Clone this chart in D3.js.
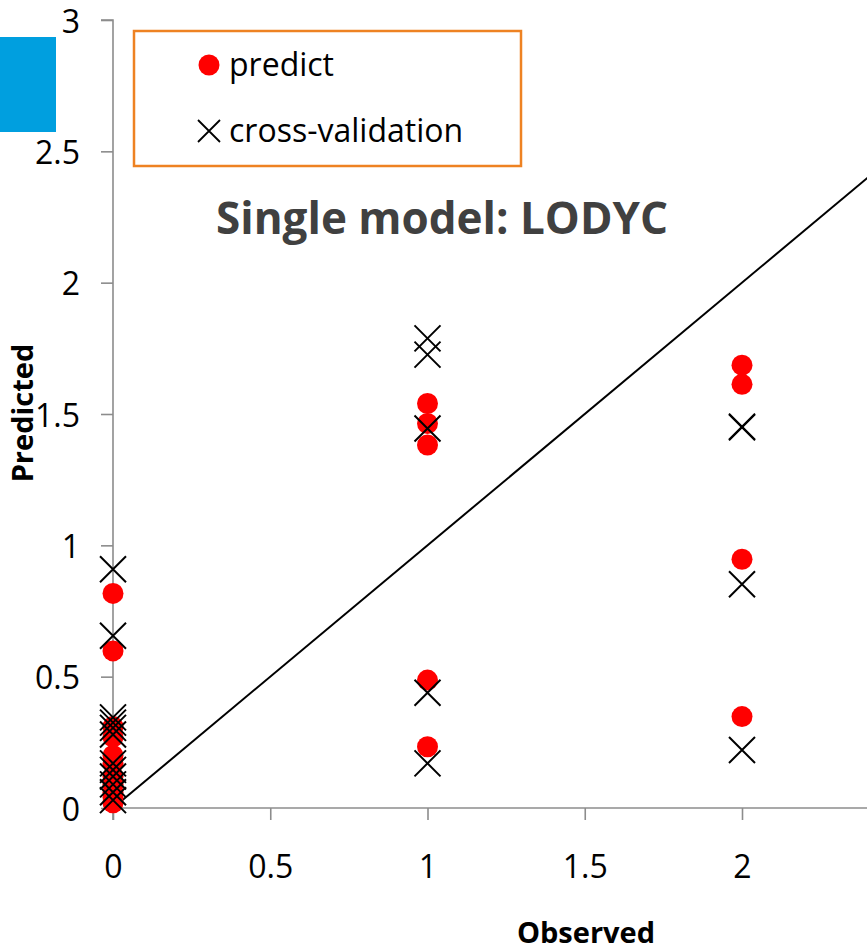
<!DOCTYPE html>
<html><head><meta charset="utf-8">
<script src="https://cdn.jsdelivr.net/npm/d3@7"></script>
<style>html,body{margin:0;padding:0;background:#fff;}svg{display:block;}</style>
</head><body>
<script>
// Data
const predictX = [0,0,0,0,0,0,0,0,0,0,0, 1,1,1,1,1, 2,2,2,2];
const predictY = [0.817,0.598,0.31,0.27,0.20,0.17,0.12,0.09,0.06,0.04,0.02, 1.540,1.464,1.382,0.487,0.233, 1.686,1.613,0.947,0.348];
const cvX = [0,0,0,0,0,0,0,0,0,0,0,0, 1,1,1,1,1, 2,2,2,2];
const cvY = [0.909,0.656,0.345,0.325,0.305,0.28,0.17,0.145,0.12,0.09,0.06,0.03, 1.788,1.726,1.445,0.439,0.170, 1.449,1.452,0.852,0.221];
const xTicks = [0,0.5,1,1.5,2];
const yTicks = [0,0.5,1,1.5,2,2.5,3];
const lineX = [0,2.4];
const titleText = "Single model: LODYC";
const legendLabels = ["predict","cross-validation"];

const W = 867, H = 952;
const svg = d3.select("body").append("svg").attr("width",W).attr("height",H);
const x = d3.scaleLinear().domain([0,2.4]).range([113,867.8]);
const y = d3.scaleLinear().domain([0,3]).range([808,20]);
const font = "'Open Sans', sans-serif";

// blue block
svg.append("rect").attr("x",0).attr("y",37).attr("width",56).attr("height",95).attr("fill","#009FDF");

// axes
const yAxis = svg.append("g").attr("transform",`translate(${x(0)},0)`)
  .call(d3.axisLeft(y).tickValues(yTicks).tickSize(12).tickFormat(d3.format("")));
yAxis.select(".domain").attr("d",`M-12,${y(3)}H0V${y(0)+12}`);
const xAxis = svg.append("g").attr("transform",`translate(0,${y(0)})`)
  .call(d3.axisBottom(x).tickValues(xTicks).tickSize(12).tickFormat(d3.format("")));
xAxis.select(".domain").attr("d",`M${x(0)},0H${W}`);
[yAxis,xAxis].forEach(g=>{
  g.selectAll("path,line").attr("stroke","#8c8c8c").attr("stroke-width",1.6);
  g.selectAll("text").attr("font-family",font).attr("font-size",32).attr("fill","#000");
});
yAxis.selectAll(".tick text").attr("x",-33).attr("dy",null).attr("y",12);
xAxis.selectAll(".tick text").attr("y",70).attr("dy",null);

// diagonal
svg.append("line").attr("x1",x(lineX[0])).attr("y1",y(lineX[0])).attr("x2",x(lineX[1])).attr("y2",y(lineX[1]))
  .attr("stroke","#000").attr("stroke-width",2);

// predict points
svg.append("g").selectAll("circle").data(predictY).join("circle")
  .attr("cx",(d,i)=>x(predictX[i])).attr("cy",d=>y(d)).attr("r",10.5).attr("fill","#FF0000");
// cv crosses
const s = 13;
svg.append("g").selectAll("path").data(cvY).join("path")
  .attr("d",(d,i)=>{const cx=x(cvX[i]),cy=y(d);return `M${cx-s},${cy-s}L${cx+s},${cy+s}M${cx-s},${cy+s}L${cx+s},${cy-s}`;})
  .attr("stroke","#000").attr("stroke-width",2).attr("fill","none");

// title
svg.append("text").attr("x",442).attr("y",234).attr("text-anchor","middle")
  .attr("font-family",font).attr("font-weight","bold").attr("font-size",44).attr("fill","#404040").text(titleText);

// legend
svg.append("rect").attr("x",134).attr("y",31).attr("width",387).attr("height",135)
  .attr("fill","#fff").attr("stroke","#EE8222").attr("stroke-width",2.5);
svg.append("circle").attr("cx",209).attr("cy",65).attr("r",10.5).attr("fill","#FF0000");
svg.append("path").attr("d",`M198,120L220,142M198,142L220,120`).attr("stroke","#000").attr("stroke-width",1.8);
svg.append("text").attr("x",229).attr("y",76).attr("font-family",font).attr("font-size",32).text(legendLabels[0]);
svg.append("text").attr("x",229).attr("y",142).attr("font-family",font).attr("font-size",32).text(legendLabels[1]);

// axis titles
svg.append("text").attr("x",586).attr("y",943).attr("text-anchor","middle")
  .attr("font-family",font).attr("font-weight","bold").attr("font-size",29).text("Observed");
svg.append("text").attr("transform","translate(33,413) rotate(-90)").attr("text-anchor","middle")
  .attr("font-family",font).attr("font-weight","bold").attr("font-size",29).text("Predicted");
</script>
</body></html>
